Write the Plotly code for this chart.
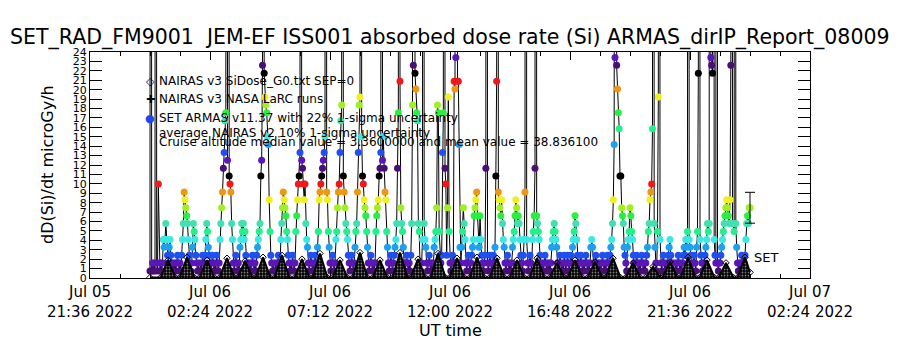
import pandas as pd
import plotly.graph_objects as go

TITLE = "SET_RAD_FM9001  JEM-EF ISS001 absorbed dose rate (Si) ARMAS_dirIP_Report_08009"

# quantized dose-rate steps (microGy/h) seen in the SET ARMAS record
dose_steps = [0.74, 1.58, 2.42, 3.26, 4.10, 4.94, 5.78, 6.62, 7.46, 8.30,
              9.14, 9.98, 10.82, 11.66, 12.50, 13.34, 14.18, 15.02, 15.86, 16.70,
              17.54, 18.38, 19.22, 20.06, 20.90, 21.74, 22.58, 23.42]
offscale_dose = 300.0  # spikes that leave the plotted range

# SET ARMAS samples, 2-min cadence from 2022-07-06 00:00, one row per UT hour.
# each character = index into dose_steps (0-9, a-r), 'X' = off-scale spike
set_start = "2022-07-06 00:00"
set_hourly_codes = [
    "0X01010X10b1010143464213421010",
    "10121010246a987642101365421010",
    "010210246532101210102101468adf",
    "jkXeXcba6410121010346564521010",
    "1012101023456ceqXpmlkhg9521010",
    "0101210468a98754210102101579bc",
    "fXedb9b64310121010210359abcdef",
    "hXa9531012101458abfjlXca865421",
    "012101356aflmXhcb9875310121010",
    "15789cdfXehda95310121012346dkX",
    "o86531012101026lqXpnkj651014X6",
    "431012101013458lk5212fkXdb28m5",
    "10121onrXoog313586410121012347",
    "89a7437421012dX1012101213coXa9",
    "879643101210101345798676421024",
    "aX4101210457dX7654210101210101",
    "013456543101210102101210121345",
    "764210121010121010134310121010",
    "10121010121023469grXqnkicc8763",
    "210345875421012101012101012356",
    "9abiX63105mX410121010123421010",
    "0101210101232435X43210121035pX",
    "421011234656XrqpX421X101123456",
    "7898769qX665X63101012101246768",
    "8",
]
set_uncertainty = 0.22

# NAIRAS v3 SiDose model (hours after 2022-07-06 00:00, microGy/h)
nairas_hours = [0.00, 0.42, 0.72, 1.02, 1.18, 1.48, 1.78, 1.98, 2.28, 2.58,
                2.78, 3.08, 3.38, 3.50, 3.80, 4.10, 4.22, 4.52, 4.82, 4.98,
                5.28, 5.58, 5.78, 6.08, 6.38, 6.50, 6.80, 7.10, 7.30, 7.60,
                7.90, 8.10, 8.40, 8.70, 8.90, 9.20, 9.50, 9.70, 10.00, 10.30,
                10.42, 10.72, 11.02, 11.22, 11.52, 11.82, 11.98, 12.28, 12.58, 12.78,
                13.08, 13.38, 13.58, 13.88, 14.18, 14.38, 14.68, 14.98, 15.18, 15.48,
                15.78, 15.98, 16.28, 16.58, 16.70, 17.00, 17.30, 17.50, 17.80, 18.10,
                18.22, 18.52, 18.82, 19.02, 19.32, 19.62, 19.82, 20.12, 20.42, 20.50,
                20.80, 21.10, 21.22, 21.52, 21.82, 21.98, 22.28, 22.58, 22.74, 23.04,
                23.34, 23.50, 23.80, 24.00]
nairas_dose = [0.05, 0.05, 1.9, 0.05, 0.05, 2.2, 0.05, 0.05, 1.9, 0.05,
               0.05, 2.1, 0.05, 0.05, 1.8, 0.05, 0.05, 2.2, 0.05, 0.05,
               2.4, 0.05, 0.05, 2.0, 0.05, 0.05, 2.6, 0.05, 0.05, 1.9,
               0.05, 0.05, 2.7, 0.05, 0.05, 1.9, 0.05, 0.05, 2.7, 0.05,
               0.05, 2.0, 0.05, 0.05, 2.6, 0.05, 0.05, 2.1, 0.05, 0.05,
               2.2, 0.05, 0.05, 2.1, 0.05, 0.05, 1.9, 0.05, 0.05, 2.1,
               0.05, 0.05, 1.6, 0.05, 0.05, 1.9, 0.05, 0.05, 1.7, 0.05,
               0.05, 2.1, 0.05, 0.05, 1.6, 0.05, 0.05, 1.2, 0.05, 0.05,
               1.7, 0.05, 0.05, 2.2, 0.05, 0.05, 1.9, 0.05, 0.05, 1.6,
               0.05, 0.05, 2.2, 0.6]

x_tick_times = ["2022-07-05 21:36", "2022-07-06 02:24", "2022-07-06 07:12",
                "2022-07-06 12:00", "2022-07-06 16:48", "2022-07-06 21:36",
                "2022-07-07 02:24"]
x_tick_text = ["Jul 05<br>21:36 2022", "Jul 06<br>02:24 2022", "Jul 06<br>07:12 2022",
               "Jul 06<br>12:00 2022", "Jul 06<br>16:48 2022", "Jul 06<br>21:36 2022",
               "Jul 07<br>02:24 2022"]
y_ticks = list(range(0, 25))

legend_lines = ["NAIRAS v3 SiDose_G0.txt SEP=0",
                "NAIRAS v3 NASA LaRC runs",
                "SET ARMAS v11.37 with 22% 1-sigma uncertainty",
                "average NAIRAS v2 10% 1-sigma uncertainty",
                "Cruise altitude median value = 3.3600000 and mean value = 38.836100"]

# ---------------- styling / building ----------------
FONT = "DejaVu Sans"
palette = ["#4a0e78", "#5a16b8", "#1e50f0", "#1ea0f0", "#3ce8e4", "#22f08a",
           "#40e0b0", "#28f040", "#a0f020", "#f0f020", "#f09610", "#f01818", "#000000"]

codes = "".join(set_hourly_codes)
set_times = pd.date_range(set_start, periods=len(codes), freq="2min")
set_dose = [offscale_dose if c == "X" else dose_steps[int(c, 36)] for c in codes]
set_colors = ["#000000" if c == "X" else palette[int(c, 36) % len(palette)] for c in codes]

t0 = pd.Timestamp(set_start)
nairas_times = [t0 + pd.Timedelta(hours=h) for h in nairas_hours]

fig = go.Figure()
fig.add_trace(go.Scatter(
    x=set_times, y=set_dose, mode="lines+markers",
    line=dict(color="black", width=1),
    marker=dict(color=set_colors, size=7, symbol="circle", line=dict(width=0)),
    showlegend=False))
fig.add_trace(go.Scatter(
    x=nairas_times, y=nairas_dose, mode="lines+markers",
    line=dict(color="black", width=2),
    fill="tozeroy", fillcolor="rgba(0,0,0,0)",
    fillpattern=dict(shape=".", fgcolor="white", bgcolor="black", size=3, solidity=0.3),
    marker=dict(symbol="diamond-open", color="black", size=5, line=dict(width=1)),
    showlegend=False))
fig.add_trace(go.Scatter(
    x=[set_times[-1]], y=[set_dose[-1]], mode="markers",
    marker=dict(size=1, color="rgba(0,0,0,0)"),
    error_y=dict(type="data", array=[set_uncertainty * set_dose[-1]],
                 color="black", thickness=1, width=5),
    showlegend=False))

X0, X1 = 90, 810
Y0, Y1 = 278, 52
def px(x):
    return (x - X0) / (X1 - X0)
def py(y):
    return (Y0 - y) / (Y0 - Y1)

ann = []
legend_y = [81, 99, 118, 133, 142]
symbols = ["◇", "✚", "<span style='color:#1e46f0'>●</span>", "", ""]
for txt, yy, sym in zip(legend_lines, legend_y, symbols):
    ann.append(dict(x=px(157), y=py(yy), xref="paper", yref="paper", text=txt,
                    showarrow=False, xanchor="left", yanchor="middle",
                    font=dict(family=FONT, size=12, color="black")))
    if sym:
        ann.append(dict(x=px(150), y=py(yy), xref="paper", yref="paper", text=sym,
                        showarrow=False, xanchor="center", yanchor="middle",
                        font=dict(family=FONT, size=11, color="black")))
ann.append(dict(x=set_times[-1] + pd.Timedelta(minutes=5), y=2.2, xref="x", yref="y",
                text="SET", showarrow=False, xanchor="left", yanchor="middle",
                font=dict(family=FONT, size=13, color="black")))
ann.append(dict(x=px(47), y=0.5, xref="paper", yref="paper", text="dD(Si)/dt microGy/h",
                textangle=-90, showarrow=False, xanchor="center", yanchor="middle",
                font=dict(family=FONT, size=16, color="black")))
ann.append(dict(x=0.5, y=py(330), xref="paper", yref="paper", text="UT time",
                showarrow=False, xanchor="center", yanchor="middle",
                font=dict(family=FONT, size=16, color="black")))
ann.append(dict(x=0.5, y=py(37), xref="paper", yref="paper", text=TITLE,
                showarrow=False, xanchor="center", yanchor="middle",
                font=dict(family=FONT, size=20.5, color="black")))

fig.update_layout(
    width=900, height=350,
    margin=dict(l=X0, r=900 - X1, t=Y1, b=350 - Y0),
    paper_bgcolor="white", plot_bgcolor="white",
    annotations=ann,
    font=dict(family=FONT, color="black"),
    xaxis=dict(type="date", range=["2022-07-05 21:36", "2022-07-07 02:24"],
               tickmode="array", tickvals=x_tick_times, ticktext=x_tick_text,
               ticks="inside", ticklen=8, tickcolor="black", showgrid=False,
               showline=True, linecolor="black", linewidth=1, mirror="ticks",
               zeroline=False, tickfont=dict(family=FONT, size=15, color="black"),
               minor=dict(ticks="inside", ticklen=4, tickcolor="black",
                          dtick=72 * 60 * 1000, tick0="2022-07-05 21:36",
                          showgrid=False)),
    yaxis=dict(range=[0, 24], tickmode="array", tickvals=y_ticks,
               ticktext=[str(v) for v in y_ticks],
               ticks="inside", ticklen=12, tickcolor="black", showgrid=False,
               showline=True, linecolor="black", linewidth=1, mirror="ticks",
               zeroline=False, tickfont=dict(family=FONT, size=11, color="black")),
)

fig.write_html("out.html")
